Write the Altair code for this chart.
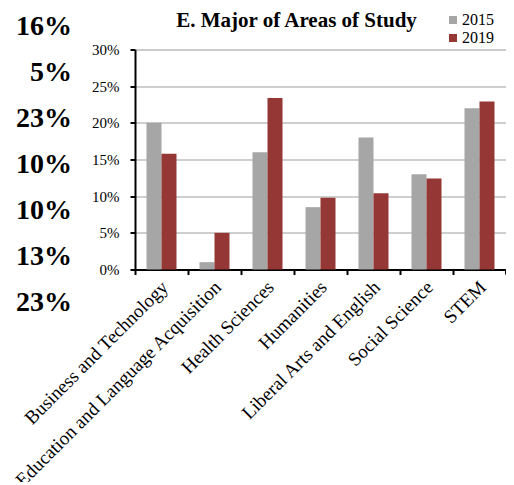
import altair as alt
import pandas as pd

categories = ["Business and Technology", "Education and Language Acquisition",
              "Health Sciences", "Humanities", "Liberal Arts and English",
              "Social Science", "STEM"]
values_2015 = [0.200, 0.010, 0.160, 0.085, 0.180, 0.130, 0.220]
values_2019 = [0.158, 0.050, 0.234, 0.098, 0.104, 0.124, 0.229]
years = ["2015", "2019"]
side_labels = ["16%", "5%", "23%", "10%", "10%", "13%", "23%"]
title_text = "E. Major of Areas of Study"

FONT = "Liberation Serif"
W, H = 371, 220

rows = []
for c, a, b in zip(categories, values_2015, values_2019):
    rows.append({"major": c, "year": years[0], "share": a})
    rows.append({"major": c, "year": years[1], "share": b})
df = pd.DataFrame(rows)

side_df = pd.DataFrame({"label": side_labels, "i": list(range(len(side_labels)))})
title_df = pd.DataFrame({"t": [title_text]})

bars = alt.Chart(df).mark_bar().encode(
    x=alt.X("major:N", sort=categories, title=None,
            scale=alt.Scale(paddingInner=0, paddingOuter=0),
            axis=alt.Axis(bandPosition=0, labelOffset=-3, labelAngle=-45,
                          labelFont=FONT, labelFontSize=19, labelColor="black",
                          domainColor="black", domainWidth=2, tickColor="black",
                          tickWidth=2, tickSize=5, labelPadding=3, grid=False,
                          labelLimit=400)),
    xOffset=alt.XOffset("year:N", scale=alt.Scale(paddingInner=0, paddingOuter=0.767)),
    y=alt.Y("share:Q", title=None,
            scale=alt.Scale(domain=[0, 0.30], nice=False),
            axis=alt.Axis(values=[0, 0.05, 0.10, 0.15, 0.20, 0.25, 0.30], format=".0%",
                          labelFont=FONT, labelFontSize=15, labelColor="black",
                          domainColor="black", domainWidth=2, tickColor="black",
                          tickWidth=2, tickSize=5, labelPadding=11,
                          gridColor="#bfbfbf", gridWidth=1.5)),
    color=alt.Color("year:N",
                    scale=alt.Scale(domain=years, range=["#a6a6a6", "#953735"]),
                    legend=alt.Legend(title=None, orient="none", legendX=310, legendY=-37.5,
                                      symbolType="square", symbolSize=64,
                                      symbolStrokeWidth=0, labelFont=FONT,
                                      labelFontSize=16, labelColor="black",
                                      labelOffset=1, rowPadding=2, padding=0)),
)

end_tick = alt.Chart(title_df).mark_rule(color="black", strokeWidth=2).encode(
    x=alt.value(W), y=alt.value(H), y2=alt.value(H + 5)
)

title = alt.Chart(title_df).mark_text(
    font=FONT, fontSize=21, fontWeight="bold", color="black",
    align="center", baseline="alphabetic"
).encode(text="t:N", x=alt.value(161.5), y=alt.value(-22.5))

side = alt.Chart(side_df).mark_text(
    font=FONT, fontSize=28, fontWeight="bold", color="black",
    align="right", baseline="alphabetic"
).encode(
    text="label:N",
    x=alt.value(-63),
    y=alt.Y("i:O", axis=None, title=None,
            scale=alt.Scale(type="point", range=[-14.5, 261.5], padding=0)),
)

chart = alt.layer(bars, end_tick, title, side).resolve_scale(y="independent").properties(
    width=W, height=H,
    autosize=alt.AutoSizeParams(type="none"),
    padding={"left": 127, "top": 41.5, "right": 0, "bottom": 212},
).configure_view(stroke=None).configure(background="white", font=FONT).configure_legend(
    labelFont=FONT, labelFontSize=16, labelColor="black"
)

chart.save("out.html", embed_options={"renderer": "svg", "actions": False})
